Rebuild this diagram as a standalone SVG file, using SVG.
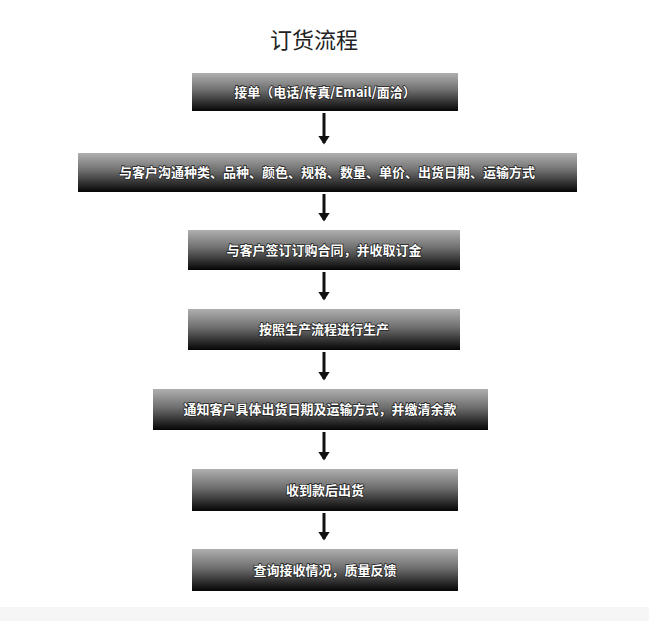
<svg xmlns="http://www.w3.org/2000/svg" width="649" height="621" viewBox="0 0 649 621">
<defs>
<linearGradient id="g" x1="0" y1="0" x2="0" y2="1">
<stop offset="0" stop-color="#b0b0b0"/><stop offset="0.45" stop-color="#6e6e6e"/><stop offset="1" stop-color="#050505"/>
</linearGradient>
<marker id="ah" markerWidth="4" markerHeight="4" refX="2.5" refY="2" orient="auto" markerUnits="strokeWidth"><path d="M0,0 L3,2 L0,4 Z" fill="#111"/></marker>
<style>
.b{fill:url(#g)}
.t{font-family:"Noto Sans CJK SC","Liberation Sans",sans-serif;font-weight:bold;font-size:13px;fill:#fff;text-anchor:middle;paint-order:stroke;stroke:#222;stroke-width:1.5px}
.c line{stroke:#111;stroke-width:3}
</style>
</defs>
<rect width="649" height="621" fill="#fff"/>
<rect x="0" y="607" width="649" height="14" fill="#f6f6f6"/>
<text x="314" y="48" font-family="Noto Sans CJK SC, sans-serif" font-size="22" fill="#222" text-anchor="middle">订货流程</text>
<g id="n1"><rect class="b" x="192" y="73" width="266" height="38"/><text class="t" x="325" y="97">接单（电话/传真/Email/面洽）</text></g>
<g id="n2"><rect class="b" x="78" y="153" width="499" height="39"/><text class="t" x="327" y="177">与客户沟通种类、品种、颜色、规格、数量、单价、出货日期、运输方式</text></g>
<g id="n3"><rect class="b" x="188" y="230" width="272" height="40"/><text class="t" x="324" y="255">与客户签订订购合同，并收取订金</text></g>
<g id="n4"><rect class="b" x="188" y="309" width="272" height="41"/><text class="t" x="324" y="334">按照生产流程进行生产</text></g>
<g id="n5"><rect class="b" x="153" y="389" width="335" height="41"/><text class="t" x="320" y="414">通知客户具体出货日期及运输方式，并缴清余款</text></g>
<g id="n6"><rect class="b" x="192" y="469" width="266" height="42"/><text class="t" x="325" y="495">收到款后出货</text></g>
<g id="n7"><rect class="b" x="192" y="549" width="266" height="42"/><text class="t" x="325" y="575">查询接收情况，质量反馈</text></g>
<g class="c">
<line x1="324" y1="113" x2="324" y2="143" marker-end="url(#ah)"/>
<line x1="324" y1="194" x2="324" y2="220" marker-end="url(#ah)"/>
<line x1="324" y1="272" x2="324" y2="299" marker-end="url(#ah)"/>
<line x1="324" y1="352" x2="324" y2="379" marker-end="url(#ah)"/>
<line x1="324" y1="432" x2="324" y2="459" marker-end="url(#ah)"/>
<line x1="324" y1="513" x2="324" y2="539" marker-end="url(#ah)"/>
</g>
</svg>
